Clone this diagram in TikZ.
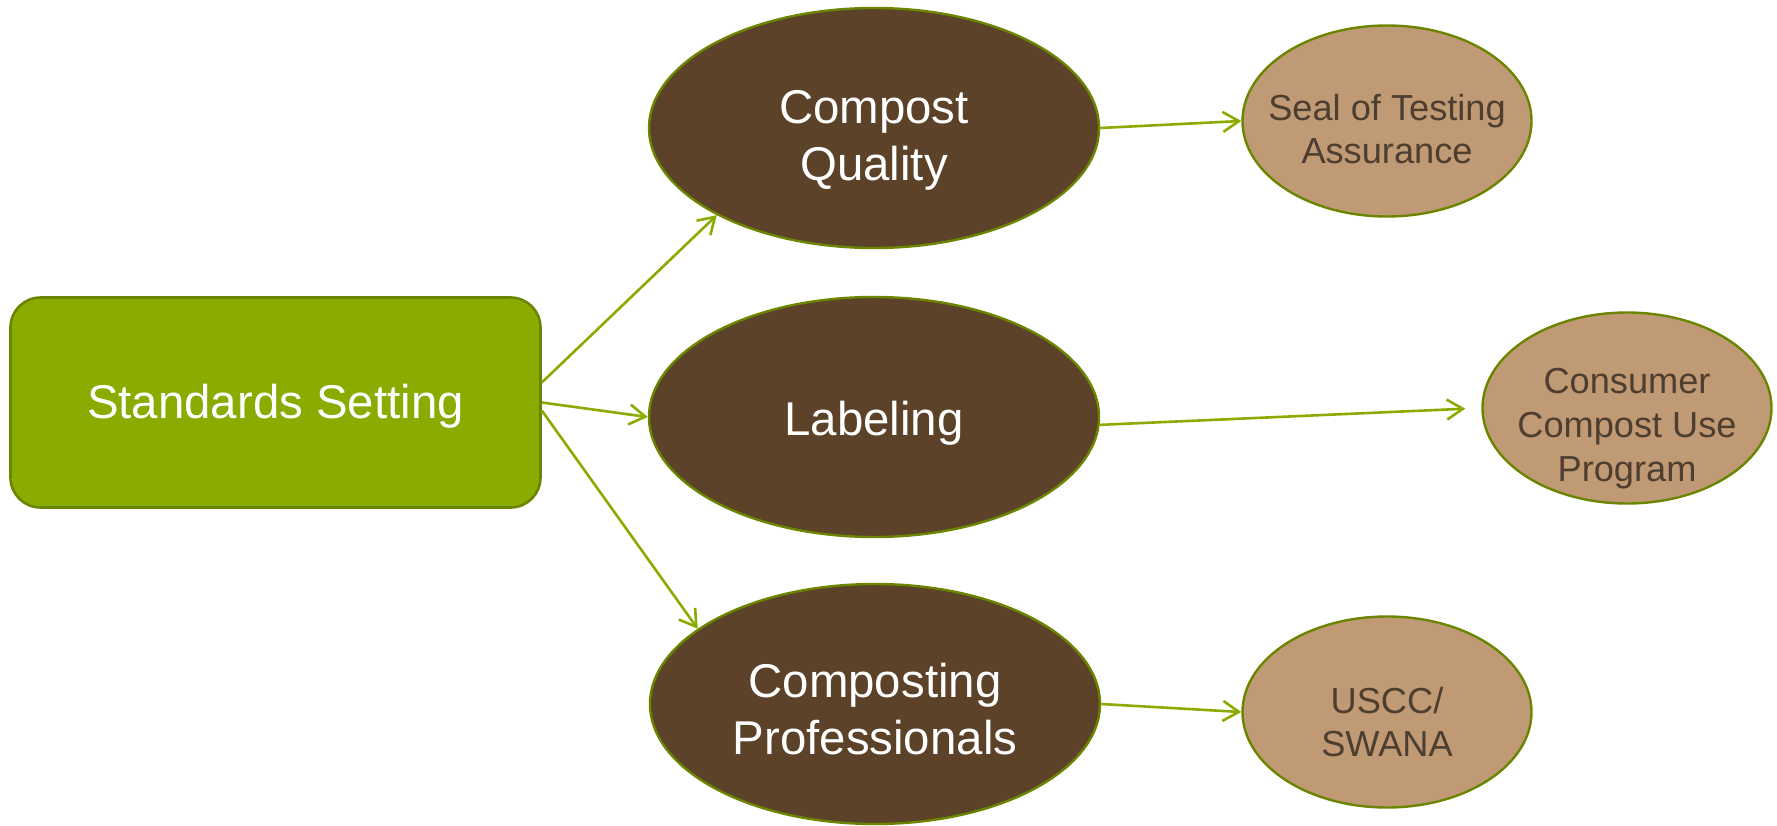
\documentclass[tikz,border=0pt]{standalone}
\usepackage{fontspec}
\setmainfont{Liberation Sans}
\usepackage{tikz}
\usetikzlibrary{shapes.geometric,arrows.meta,positioning}

\definecolor{boxgreen}{HTML}{8AAB00}
\definecolor{edgegreen}{HTML}{6B8500}
\definecolor{darkbrown}{HTML}{5B4229}
\definecolor{tan}{HTML}{C09A75}
\definecolor{textbrown}{HTML}{4D3E2F}

\begin{document}
\begin{tikzpicture}[
    x=0.5pt, y=-0.5pt,
    box/.style={draw=edgegreen, line width=1.3pt, fill=boxgreen, rounded corners=15pt,
        minimum width=265pt, minimum height=105pt, text=white, text centered,
        font=\fontsize{23.7}{28.4}\selectfont},
    bigoval/.style={ellipse, draw=edgegreen, line width=1.2pt, fill=darkbrown, inner sep=-10pt,
        minimum width=225pt, minimum height=120pt, text=white, align=center,
        font=\fontsize{23.7}{28.4}\selectfont},
    smalloval/.style={ellipse, draw=edgegreen, line width=1.2pt, fill=tan, inner sep=-14pt,
        minimum width=144.5pt, minimum height=95.5pt, text=textbrown, align=center,
        font=\fontsize{18.1}{21.8}\selectfont},
    drop/.style={execute at begin node={\rule{0pt}{#1}}},
    arrow/.style={draw=boxgreen, line width=1.3pt, -{Straight Barb[length=8pt,width=10pt]}}
]
\useasboundingbox (0,0) rectangle (1777,825);

\node (standards) [box, drop=21.2pt] at (275.5,402.5) {Standards Setting};
\node (quality) [bigoval, drop=57.6pt] at (874,128) {Compost\\Quality};
\node (labeling) [bigoval, drop=23.2pt] at (874,417) {Labeling};
\node (professionals) [bigoval, drop=50.6pt] at (875,704) {Composting\\Professionals};
\node (seal) [smalloval, drop=43pt] at (1387,121) {Seal of Testing\\Assurance};
\node (consumer) [smalloval, drop=76.9pt] at (1627,408) {Consumer\\Compost Use\\Program};
\node (uscc) [smalloval, drop=45pt] at (1387,712) {USCC/\\SWANA};

\draw [arrow] ([yshift=10pt]standards.east) -- (quality.209);
\draw [arrow] (standards.east) -- (labeling.west);
\draw [arrow] ([yshift=-4pt]standards.east) -- (professionals.157);

\draw [arrow] (quality.east) -- (seal.west);
\draw [arrow, shorten >=8pt] (labeling.-2) -- (consumer.west);
\draw [arrow] (professionals.east) -- (uscc.west);

\end{tikzpicture}
\end{document}
